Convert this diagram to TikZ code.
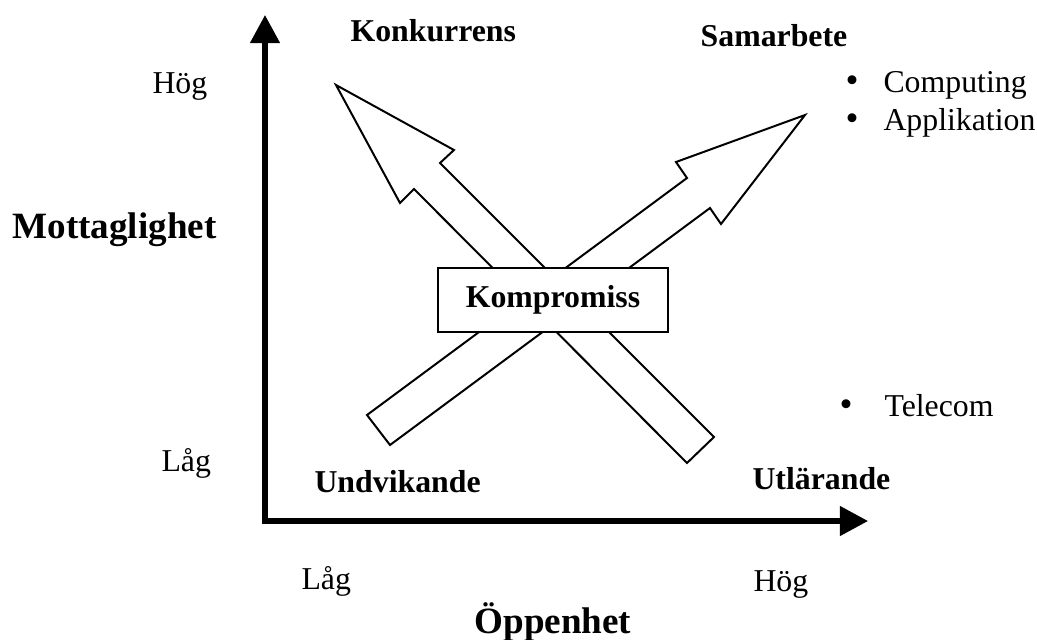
\documentclass[tikz,border=0pt]{standalone}
\usepackage{fontspec}
\setmainfont{Liberation Serif}
\usetikzlibrary{arrows.meta}
\begin{document}
\begin{tikzpicture}[x=0.37736pt,y=-0.37736pt,
  lbl/.style={inner sep=0pt, font=\fontsize{12}{14}\selectfont, anchor=base west},
  blbl/.style={lbl, font=\fontsize{12}{14}\selectfont\bfseries},
  big/.style={inner sep=0pt, font=\fontsize{14}{17}\selectfont\bfseries, anchor=base},
  bul/.style={inner sep=0pt, font=\fontsize{14}{16}\selectfont, anchor=base},
  blockarrow/.style={draw, line width=0.75pt, line join=miter},
  axis/.style={line width=1.9pt, line join=miter,
    {Triangle[length=10.6pt,width=10.9pt]}-{Triangle[length=10.6pt,width=10.9pt]}},
  boxnode/.style={draw, fill=white, line width=0.75pt, inner sep=0pt,
    minimum width=86.8pt, minimum height=23.8pt, font=\fontsize{12}{14}\selectfont\bfseries}
]
\useasboundingbox (0,0) rectangle (1037,639);

% axes
\coordinate (ytop) at (265,15);
\coordinate (orig) at (265,521);
\coordinate (xend) at (868,521);
\draw[axis] (ytop) -- (orig) -- (xend);

% block arrows
\draw[blockarrow] (336,85) -- (454,150) -- (440,163) -- (714,437) -- (687,463)
  -- (414,189) -- (400,203) -- cycle;
\draw[blockarrow] (805,115) -- (721,224) -- (710,208) -- (390,445) -- (367,415)
  -- (687,178) -- (676,162) -- cycle;

% centre box
\node[boxnode] (komp) at (553,300) {Kompromiss};

% labels
\node[blbl] (konk) at (350,41) {Konkurrens};
\node[blbl, anchor=base] (sam) at (774,46) {Samarbete};
\node[lbl] (hogy) at (152,93) {Hög};
\node[lbl] (lagy) at (161,471) {Låg};
\node[big, anchor=base west] (mott) at (12,238) {Mottaglighet};
\node[blbl] (undv) at (314,492) {Undvikande};
\node[blbl] (utl) at (752,489) {Utlärande};
\node[lbl] (lagx) at (301,589) {Låg};
\node[lbl] (hogx) at (753,591) {Hög};
\node[big] (opp) at (553,633) {Öppenhet};

% bullets
\node[bul] (b1) at (852,92) {\textbullet};
\node[lbl] (comp) at (883,92) {Computing};
\node[bul] (b2) at (852,130) {\textbullet};
\node[lbl] (appl) at (883,130) {Applikation};
\node[bul] (b3) at (846,416) {\textbullet};
\node[lbl] (tele) at (884,416) {Telecom};
\end{tikzpicture}
\end{document}
